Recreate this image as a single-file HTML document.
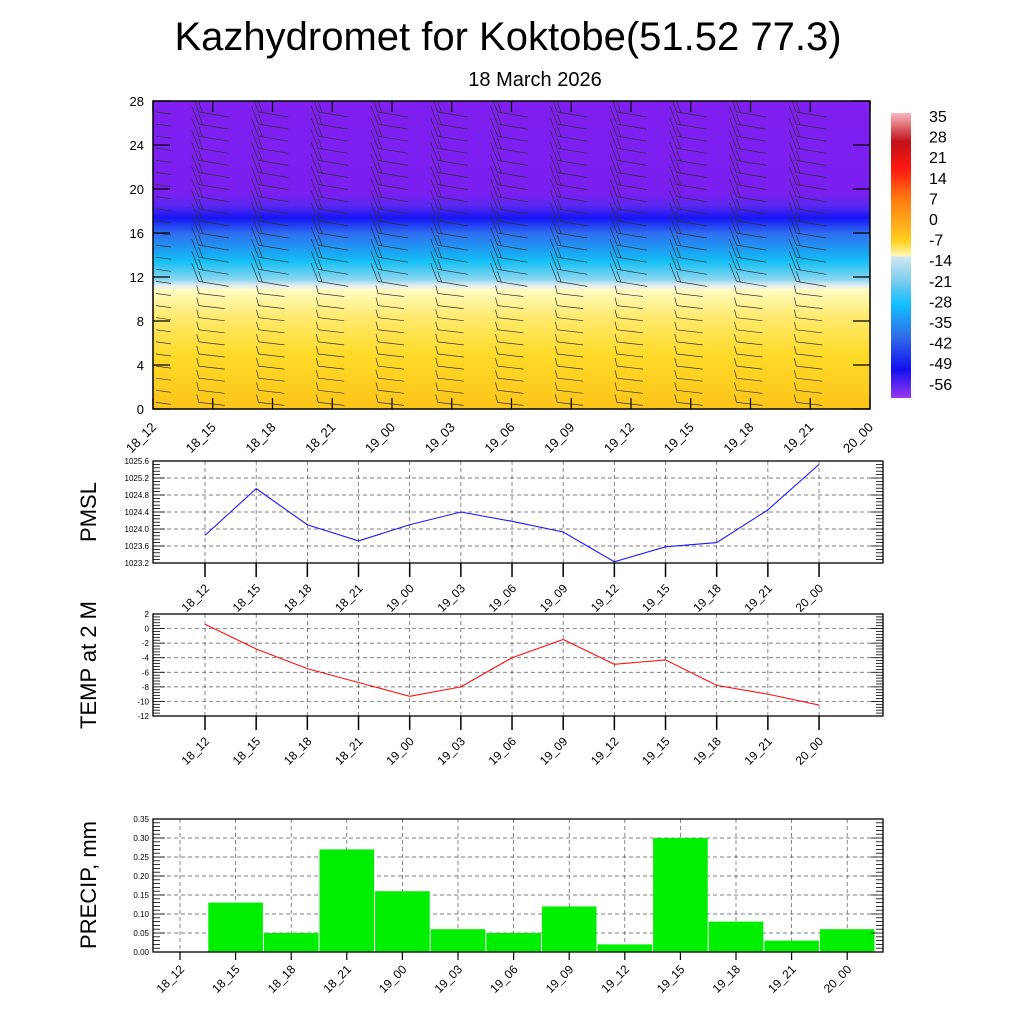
<!DOCTYPE html>
<html><head><meta charset="utf-8"><style>
body{margin:0;background:#fff;}
svg{display:block;font-family:"Liberation Sans",sans-serif;}
</style></head><body>
<svg id="s" width="1024" height="1024" viewBox="0 0 1024 1024">
<defs>
<clipPath id="clipTop"><rect x="153" y="101" width="717" height="308"/></clipPath>
<linearGradient id="field" x1="0" y1="0" x2="0" y2="1">
<stop offset="0" stop-color="#7f1ff0"/>
<stop offset="0.3" stop-color="#7a1ff0"/>
<stop offset="0.34" stop-color="#5a28f0"/>
<stop offset="0.38" stop-color="#1515f5"/>
<stop offset="0.43" stop-color="#2f6ef0"/>
<stop offset="0.52" stop-color="#12bff5"/>
<stop offset="0.58" stop-color="#8dd6f0"/>
<stop offset="0.6" stop-color="#e4eef2"/>
<stop offset="0.615" stop-color="#fffcc0"/>
<stop offset="0.7" stop-color="#ffea70"/>
<stop offset="0.82" stop-color="#ffdb2a"/>
<stop offset="1" stop-color="#fcc418"/>
</linearGradient>
<linearGradient id="cbar" x1="0" y1="0" x2="0" y2="1">
<stop offset="0" stop-color="#f7b8c0"/>
<stop offset="0.1" stop-color="#c21018"/>
<stop offset="0.2" stop-color="#ff1a10"/>
<stop offset="0.3" stop-color="#ff7a10"/>
<stop offset="0.45" stop-color="#ffd020"/>
<stop offset="0.5" stop-color="#fff8b0"/>
<stop offset="0.505" stop-color="#d0e8f2"/>
<stop offset="0.6" stop-color="#70c8ec"/>
<stop offset="0.67" stop-color="#10c0ff"/>
<stop offset="0.78" stop-color="#3070e8"/>
<stop offset="0.9" stop-color="#1010f0"/>
<stop offset="1" stop-color="#9a38f0"/>
</linearGradient>
</defs>
<text x="508" y="50" font-size="40" text-anchor="middle">Kazhydromet for Koktobe(51.52 77.3)</text>
<text x="535" y="86" font-size="20" text-anchor="middle">18 March 2026</text>
<rect x="153" y="101" width="717" height="308" fill="url(#field)"/>
<g id="barbs" stroke="#333" stroke-width="0.7" fill="none" clip-path="url(#clipTop)"></g>
<rect x="153" y="101" width="717" height="308" fill="none" stroke="#000" stroke-width="1.5"/>
<g id="top-axes"></g>
<rect x="891" y="113" width="20" height="285" fill="url(#cbar)"/>
<g id="cbar-labels" font-size="16"></g>
<g id="pmsl"></g>
<g id="temp"></g>
<g id="precip"></g>
</svg>
<script>
const times=["18_12","18_15","18_18","18_21","19_00","19_03","19_06","19_09","19_12","19_15","19_18","19_21","20_00"];
const pmslValues=[1023.85,1024.95,1024.1,1023.72,1024.1,1024.4,1024.18,1023.93,1023.23,1023.58,1023.68,1024.45,1025.52];
const pmslTicks=[1023.2,1023.6,1024.0,1024.4,1024.8,1025.2,1025.6];
const tempValues=[0.6,-2.8,-5.5,-7.4,-9.3,-8.0,-4.0,-1.5,-4.9,-4.3,-7.8,-9.0,-10.5];
const tempTicks=[2,0,-2,-4,-6,-8,-10,-12];
const precipValues=[0,0.13,0.05,0.27,0.16,0.06,0.05,0.12,0.02,0.30,0.08,0.03,0.06];
const precipTicks=[0.00,0.05,0.10,0.15,0.20,0.25,0.30,0.35];
const heightTicks=[0,4,8,12,16,20,24,28];
const cbarLabels=["35","28","21","14","7","0","-7","-14","-21","-28","-35","-42","-49","-56"];
const NS="http://www.w3.org/2000/svg";
function mk(tag,attrs,parent){const e=document.createElementNS(NS,tag);for(const k in attrs)e.setAttribute(k,attrs[k]);parent.appendChild(e);return e;}

const topAxes=document.getElementById('top-axes');
const tx=i=>153+i*(717/12), hy=h=>409-h*(308/28);
heightTicks.forEach(h=>{
  const t=mk('text',{x:144,y:hy(h)+5,'font-size':13,'text-anchor':'end'},topAxes);t.textContent=h;
  
  
  mk('line',{x1:153,y1:hy(h),x2:170,y2:hy(h),stroke:'#000','stroke-width':1.2},topAxes);
  mk('line',{x1:870,y1:hy(h),x2:853,y2:hy(h),stroke:'#000','stroke-width':1.2},topAxes);
});
times.forEach((lb,i)=>{
  const x=tx(i);
  mk('line',{x1:x,y1:409,x2:x,y2:398,stroke:'#000','stroke-width':1.2},topAxes);
  mk('line',{x1:x,y1:101,x2:x,y2:112,stroke:'#000','stroke-width':1.2},topAxes);
  const t=mk('text',{x:x+4,y:428,'font-size':13,'text-anchor':'end',transform:`rotate(-45 ${x+4} 428)`},topAxes);t.textContent=lb;
  
  
});
const bg=document.getElementById('barbs');
for(let i=0;i<12;i++){
  for(let h=0.6;h<27.9;h+=1.1){
    const x=tx(i)+(i==0?3:-14), y=hy(h);
    const up=h>11.5;
    if(i==0){mk('line',{x1:x,y1:y,x2:x+15,y2:y+2},bg);continue;}
    const len=up?30:26;
    mk('line',{x1:x,y1:y,x2:x+len,y2:y+(up?5:3)},bg);
    mk('line',{x1:x,y1:y,x2:x-(up?7:2),y2:y-(up?18:8)},bg);
    if(up){mk('line',{x1:x+4,y1:y+1,x2:x,y2:y-10},bg);}
  }
}
const cl=document.getElementById('cbar-labels');
cbarLabels.forEach((l,i)=>{const t=mk('text',{x:929,y:122+i*20.6},cl);t.textContent=l;
  
  });

function linePanel(g,vals,ticks,y0,y1,color,ylabel,fmt,labelY){
  const x0=153,x1=883;
  const vmin=Math.min(...ticks),vmax=Math.max(...ticks);
  const X=i=>205+i*51.17, Y=v=>y1-(v-vmin)/(vmax-vmin)*(y1-y0);
  ticks.forEach(v=>{
    mk('line',{x1:x0,y1:Y(v),x2:x1,y2:Y(v),stroke:'#555','stroke-dasharray':'4,3','stroke-width':0.7},g);
    const t=mk('text',{x:x0-4,y:Y(v)+3,'font-size':8,'text-anchor':'end'},g);t.textContent=fmt(v);
    
    
  });
  const n=(ticks.length-1)*5;
  for(let k=0;k<=n;k++){const y=y1-k*(y1-y0)/n;const w=k%5==0?12:7;
    mk('line',{x1:x0,y1:y,x2:x0+w,y2:y,stroke:'#000','stroke-width':0.8},g);
    mk('line',{x1:x1,y1:y,x2:x1-w,y2:y,stroke:'#000','stroke-width':0.8},g);}
  times.forEach((lb,i)=>{const x=X(i);
    mk('line',{x1:x,y1:y0,x2:x,y2:y1,stroke:'#555','stroke-dasharray':'4,3','stroke-width':0.7},g);
    mk('line',{x1:x,y1:y1,x2:x,y2:y1+14,stroke:'#000','stroke-width':1.5},g);
    const ly=y1+26;const t=mk('text',{x:x+5,y:ly,'font-size':12,'text-anchor':'end',transform:`rotate(-45 ${x+5} ${ly})`},g);t.textContent=lb;
    
    });
  mk('rect',{x:x0,y:y0,width:x1-x0,height:y1-y0,fill:'none',stroke:'#000','stroke-width':1.3},g);
  const p=mk('polyline',{points:vals.map((v,i)=>X(i)+','+Y(v)).join(' '),fill:'none',stroke:color,'stroke-width':1.1},g);
  
  
  const t=mk('text',{x:96,y:labelY,'font-size':22,'text-anchor':'middle',transform:`rotate(-90 96 ${labelY})`},g);t.textContent=ylabel;
  
  
}
linePanel(document.getElementById('pmsl'),pmslValues,pmslTicks,461,563,'#1a1aff','PMSL',v=>v.toFixed(1),512);
linePanel(document.getElementById('temp'),tempValues,tempTicks,614,716,'#ff1010','TEMP at 2 M',v=>v,665);

(function(){
  const g=document.getElementById('precip');
  const x0=153,x1=883,y0=819,y1=952;
  const X=i=>180+i*55.6, Y=v=>y1-v/0.35*(y1-y0);
  precipTicks.forEach(v=>{
    mk('line',{x1:x0,y1:Y(v),x2:x1,y2:Y(v),stroke:'#555','stroke-dasharray':'4,3','stroke-width':0.7},g);
    const t=mk('text',{x:x0-4,y:Y(v)+3,'font-size':8,'text-anchor':'end'},g);t.textContent=v.toFixed(2);
    
    
  });
  times.forEach((lb,i)=>{const x=X(i);
    mk('line',{x1:x,y1:y0,x2:x,y2:y1,stroke:'#555','stroke-dasharray':'4,3','stroke-width':0.7},g);});
  precipValues.forEach((v,i)=>{
    const r=mk('rect',{x:X(i)-27.8+0.5,y:Y(v),width:54.6,height:y1-Y(v),fill:'#00ee00'},g);
    
    
  });
  const n=35;
  for(let k=0;k<=n;k++){const y=y1-k*(y1-y0)/n;const w=k%5==0?12:7;
    mk('line',{x1:x0,y1:y,x2:x0+w,y2:y,stroke:'#000','stroke-width':0.8},g);
    mk('line',{x1:x1,y1:y,x2:x1-w,y2:y,stroke:'#000','stroke-width':0.8},g);}
  times.forEach((lb,i)=>{const x=X(i);
    mk('line',{x1:x,y1:y1,x2:x,y2:y1+8,stroke:'#000','stroke-width':1.2},g);
    const ly=y1+18;const t=mk('text',{x:x+5,y:ly,'font-size':12,'text-anchor':'end',transform:`rotate(-45 ${x+5} ${ly})`},g);t.textContent=lb;
    
    });
  mk('rect',{x:x0,y:y0,width:x1-x0,height:y1-y0,fill:'none',stroke:'#000','stroke-width':1.3},g);
  const t=mk('text',{x:96,y:885,'font-size':22,'text-anchor':'middle',transform:'rotate(-90 96 885)'},g);t.textContent='PRECIP, mm';
  
  
})();
</script>
</body></html>
